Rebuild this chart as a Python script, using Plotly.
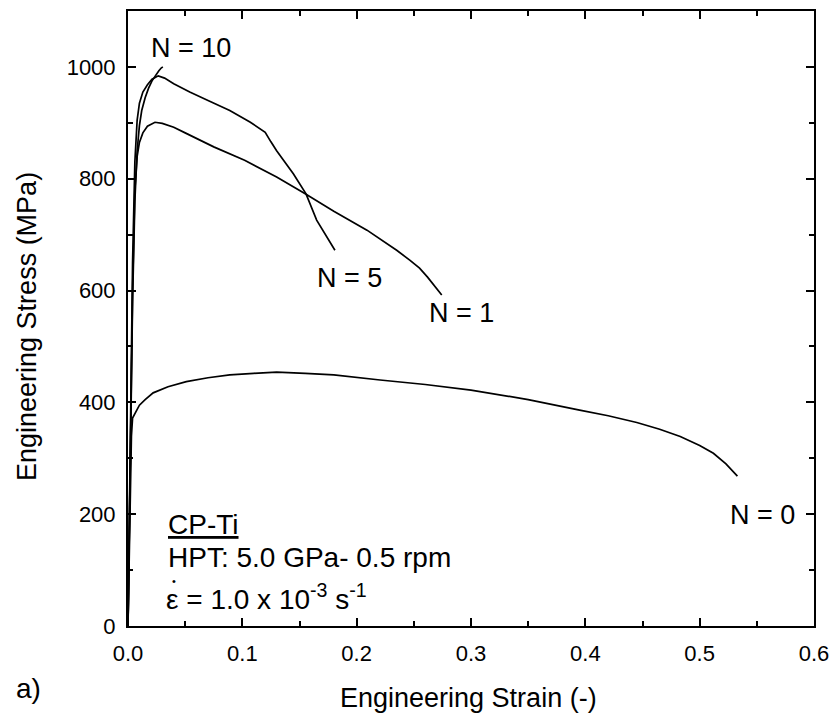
import plotly.graph_objects as go

# ---- data ----
strain_n0 = [0.0, 0.001, 0.002, 0.003, 0.004, 0.007, 0.010, 0.015, 0.022, 0.035, 0.051, 0.070, 0.089, 0.110, 0.130,
             0.155, 0.180, 0.2205, 0.26, 0.30, 0.35, 0.395, 0.420, 0.445, 0.465, 0.483, 0.500, 0.512, 0.523, 0.533]
stress_n0 = [0, 120, 250, 340, 372, 385, 395, 405, 417, 428, 437, 444, 449, 452, 454,
             452, 449, 440, 432, 422, 405, 386, 376, 364, 352, 339, 323, 309, 290, 268]

strain_n1 = [0.0, 0.002, 0.004, 0.006, 0.008, 0.010, 0.013, 0.017, 0.0236, 0.030, 0.040, 0.050, 0.075, 0.102,
             0.130, 0.155, 0.180, 0.209, 0.235, 0.2467, 0.255, 0.262, 0.268, 0.2744]
stress_n1 = [0, 300, 600, 780, 840, 865, 882, 894, 901, 899, 892, 882, 857, 833,
             803, 773, 742, 708, 672, 654, 640, 624, 608, 592]

strain_n5 = [0.0, 0.002, 0.004, 0.006, 0.008, 0.010, 0.013, 0.017, 0.021, 0.0265, 0.032, 0.040, 0.054, 0.070,
             0.089, 0.107, 0.120, 0.125, 0.130, 0.1446, 0.1557, 0.165, 0.174, 0.181]
stress_n5 = [0, 330, 650, 830, 905, 935, 955, 968, 978, 984, 980, 970, 955, 940,
             922, 901, 883, 866, 850, 809, 773, 726, 696, 672]

strain_n10 = [0.0, 0.002, 0.004, 0.006, 0.008, 0.010, 0.012, 0.015, 0.018, 0.021, 0.024, 0.027, 0.029, 0.0305]
stress_n10 = [0, 300, 580, 760, 850, 895, 922, 945, 962, 975, 985, 993, 998, 1000]

curve_names = ["N = 0", "N = 1", "N = 5", "N = 10"]
label_x = [0.555, 0.2914, 0.1934, 0.055]
label_y = [198, 560, 623, 1034]

x_ticks = [0.0, 0.1, 0.2, 0.3, 0.4, 0.5, 0.6]
y_ticks = [0, 200, 400, 600, 800, 1000]

FONT = "Liberation Sans, Arial, Helvetica, sans-serif"

# plot box in page pixels: x 128..814, y 11..626
PL, PR, PT, PB = 128, 814, 11, 626
W, H = 832, 722


def px(xp):
    return (xp - PL) / (PR - PL)


def py(yp):
    return (PB - yp) / (PB - PT)


fig = go.Figure()
for sx, sy, nm in [(strain_n0, stress_n0, curve_names[0]),
                   (strain_n1, stress_n1, curve_names[1]),
                   (strain_n5, stress_n5, curve_names[2]),
                   (strain_n10, stress_n10, curve_names[3])]:
    fig.add_trace(go.Scatter(x=sx, y=sy, mode="lines", name=nm,
                             line=dict(color="black", width=1.7), showlegend=False))

for nm, lx, ly in zip(curve_names, label_x, label_y):
    fig.add_annotation(x=lx, y=ly, xref="x", yref="y", text=nm, showarrow=False,
                       font=dict(family=FONT, size=27, color="black"),
                       xanchor="center", yanchor="middle")

# text block
fig.add_annotation(x=px(166), y=py(524), xref="paper", yref="paper",
                   text="<u>CP-Ti</u>", showarrow=False, xanchor="left", yanchor="middle",
                   font=dict(family=FONT, size=28, color="black"))
fig.add_annotation(x=px(166), y=py(557), xref="paper", yref="paper",
                   text="HPT: 5.0 GPa- 0.5 rpm", showarrow=False, xanchor="left", yanchor="middle",
                   font=dict(family=FONT, size=28, color="black"))
fig.add_annotation(x=px(164), y=py(597), xref="paper", yref="paper",
                   text="\u03b5 = 1.0 x 10<sup>-3</sup> s<sup>-1</sup>", showarrow=False,
                   xanchor="left", yanchor="middle",
                   font=dict(family=FONT, size=28, color="black"))
fig.add_annotation(x=px(173.5), y=py(581), xref="paper", yref="paper",
                   text="\u2022", showarrow=False, xanchor="center", yanchor="middle",
                   font=dict(family=FONT, size=11, color="black"))
fig.add_annotation(x=px(14), y=py(688), xref="paper", yref="paper",
                   text="a)", showarrow=False, xanchor="left", yanchor="middle",
                   font=dict(family=FONT, size=28, color="black"))

# axis titles
fig.add_annotation(x=px(468), y=py(698), xref="paper", yref="paper",
                   text="Engineering Strain (-)", showarrow=False, xanchor="center", yanchor="middle",
                   font=dict(family=FONT, size=27, color="black"))
fig.add_annotation(x=px(27), y=py(327), xref="paper", yref="paper", textangle=-90,
                   text="Engineering Stress (MPa)", showarrow=False, xanchor="center", yanchor="middle",
                   font=dict(family=FONT, size=27, color="black"))

axis_common = dict(showline=True, linecolor="black", linewidth=2, mirror="ticks",
                   ticks="inside", ticklen=8, tickwidth=1.5, tickcolor="black",
                   showgrid=False, zeroline=False, automargin=False,
                   tickfont=dict(family=FONT, size=22, color="black"))

fig.update_xaxes(range=[0, 0.6], tickvals=x_ticks, tickformat=".1f", ticklabelstandoff=7,
                 minor=dict(dtick=0.05, ticks="inside", ticklen=5, tickwidth=1.5, tickcolor="black"),
                 **axis_common)
fig.update_yaxes(range=[0, 1100], tickvals=y_ticks, ticklabelstandoff=6,
                 minor=dict(dtick=100, ticks="inside", ticklen=5, tickwidth=1.5, tickcolor="black"),
                 **axis_common)

fig.update_layout(width=W, height=H, margin=dict(l=PL, r=W - PR, t=PT, b=H - PB),
                  plot_bgcolor="white", paper_bgcolor="white",
                  font=dict(family=FONT, color="black"))

fig.write_html("out.html", config={"displayModeBar": False},
               post_script="document.body.style.margin='0';document.body.style.overflow='hidden';")
